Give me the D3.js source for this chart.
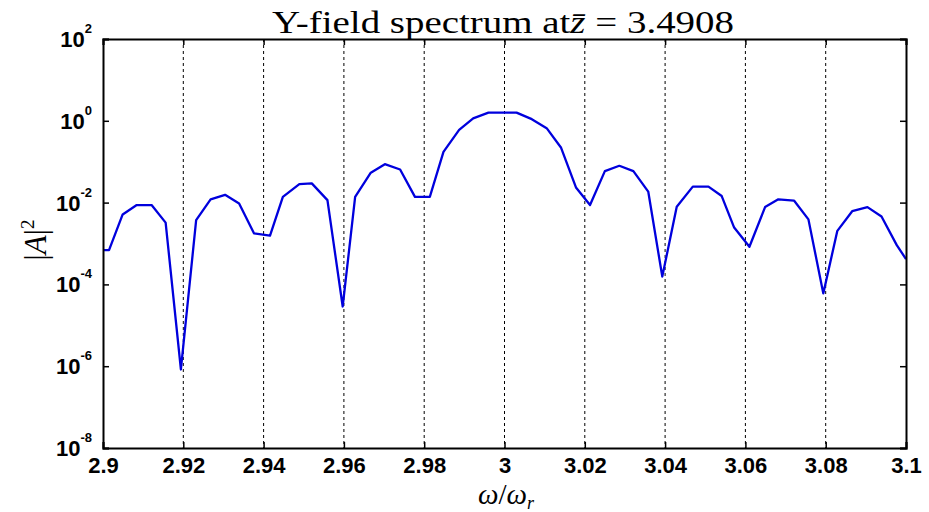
<!DOCTYPE html>
<html>
<head>
<meta charset="utf-8">
<script src="https://cdn.jsdelivr.net/npm/d3@7"></script>
<style>
  body { margin: 0; background: #fff; }
  svg { display: block; }
</style>
</head>
<body>
<div id="chart"></div>
<script>
// frequency samples (omega / omega_r)
const omega = [2.9000, 2.9015, 2.9049, 2.9084, 2.9121, 2.9156, 2.9194, 2.9232, 2.9268, 2.9304,
  2.9339, 2.9376, 2.9416, 2.9448, 2.9489, 2.9520, 2.9559, 2.9597, 2.9628, 2.9667,
  2.9702, 2.9740, 2.9777, 2.9814, 2.9848, 2.9887, 2.9922, 2.9960, 3.0000, 3.0030,
  3.0068, 3.0105, 3.0141, 3.0178, 3.0213, 3.0250, 3.0286, 3.0321, 3.0358, 3.0393,
  3.0429, 3.0469, 3.0508, 3.0541, 3.0572, 3.0610, 3.0649, 3.0682, 3.0721, 3.0757,
  3.0794, 3.0829, 3.0866, 3.0904, 3.0939, 3.0977, 3.1000];

// |A|^2, given as log10 exponents
const log10A2 = [-3.16, -3.16, -2.29, -2.06, -2.06, -2.49, -6.08, -2.43, -1.92, -1.81,
  -2.02, -2.75, -2.81, -1.86, -1.55, -1.53, -1.94, -4.54, -1.86, -1.27,
  -1.06, -1.19, -1.86, -1.86, -0.76, -0.22, 0.06, 0.20, 0.20, 0.20,
  0.04, -0.18, -0.66, -1.63, -2.06, -1.23, -1.10, -1.23, -1.73, -3.81,
  -2.10, -1.61, -1.61, -1.84, -2.61, -3.08, -2.11, -1.92, -1.95, -2.41,
  -4.22, -2.69, -2.21, -2.11, -2.34, -3.04, -3.38];

const xTicks = [2.9, 2.92, 2.94, 2.96, 2.98, 3.0, 3.02, 3.04, 3.06, 3.08, 3.1];
const xTickLabels = ["2.9", "2.92", "2.94", "2.96", "2.98", "3", "3.02", "3.04", "3.06", "3.08", "3.1"];
const yTickExp = [2, 0, -2, -4, -6, -8];

const width = 929;
const height = 512;
const margin = {top: 39, right: 23, bottom: 64, left: 103};

const svg = d3.select("#chart").append("svg")
  .attr("width", width)
  .attr("height", height);

const x = d3.scaleLinear()
  .domain([2.9, 3.1])
  .range([margin.left, width - margin.right]);

const y = d3.scaleLog()
  .domain([1e-8, 1e2])
  .range([height - margin.bottom, margin.top]);

const sansFont = "'Liberation Sans', Arial, sans-serif";
const serifFont = "'Liberation Serif', 'Times New Roman', serif";

// dotted vertical grid
svg.append("g")
  .selectAll("line")
  .data(xTicks.slice(1, -1))
  .join("line")
  .attr("x1", d => x(d))
  .attr("x2", d => x(d))
  .attr("y1", margin.top)
  .attr("y2", height - margin.bottom)
  .attr("stroke", "#000")
  .attr("stroke-width", 1)
  .attr("stroke-dasharray", "3,3");

// the spectrum
const pts = omega.map((w, i) => [w, Math.pow(10, log10A2[i])]);

svg.append("path")
  .datum(pts)
  .attr("fill", "none")
  .attr("stroke", "#0000dd")
  .attr("stroke-width", 2.3)
  .attr("stroke-linejoin", "round")
  .attr("d", d3.line().x(d => x(d[0])).y(d => y(d[1])));

// axes, ticks pointing inward like matlab
const yTickVals = yTickExp.map(e => Math.pow(10, e));

const bottom = svg.append("g")
  .attr("transform", `translate(0,${height - margin.bottom})`)
  .call(d3.axisBottom(x).tickValues(xTicks).tickSize(-6).tickPadding(9)
    .tickFormat((d, i) => xTickLabels[i]));

svg.append("g")
  .attr("transform", `translate(0,${margin.top})`)
  .call(d3.axisTop(x).tickValues(xTicks).tickSize(-6).tickFormat(""));

svg.append("g")
  .attr("transform", `translate(${margin.left},0)`)
  .call(d3.axisLeft(y).tickValues(yTickVals).tickSize(-6).tickFormat(""));

svg.append("g")
  .attr("transform", `translate(${width - margin.right},0)`)
  .call(d3.axisRight(y).tickValues(yTickVals).tickSize(-6).tickFormat(""));

svg.selectAll(".domain")
  .attr("stroke", "#000")
  .attr("stroke-width", 2);
svg.selectAll(".tick line")
  .attr("stroke", "#000")
  .attr("stroke-width", 1.5);

bottom.selectAll("text")
  .attr("fill", "#000")
  .style("font-family", sansFont)
  .style("font-weight", "bold")
  .style("font-size", "22px");

// y tick labels: 10 with superscript exponent
const ylab = svg.append("g")
  .selectAll("text")
  .data(yTickExp)
  .join("text")
  .attr("x", margin.left - 11)
  .attr("y", d => y(Math.pow(10, d)) + 8)
  .attr("text-anchor", "end")
  .style("font-family", sansFont)
  .style("font-weight", "bold")
  .style("font-size", "22px");

ylab.append("tspan").text("10");
ylab.append("tspan")
  .attr("dy", -14)
  .style("font-size", "13px")
  .text(d => d);

// title
const title = svg.append("text")
  .attr("x", 503)
  .attr("y", 33)
  .attr("text-anchor", "middle")
  .attr("textLength", 462)
  .attr("lengthAdjust", "spacingAndGlyphs")
  .style("font-family", serifFont)
  .style("font-size", "32px");
title.append("tspan").text("Y-field spectrum at");
title.append("tspan").style("font-style", "italic").text("z\u0304");
title.append("tspan").text(" = 3.4908");

// axis labels
const xl = svg.append("text")
  .attr("x", 506)
  .attr("y", 504)
  .attr("text-anchor", "middle")
  .style("font-family", serifFont)
  .style("font-size", "29px");
xl.append("tspan").style("font-style", "italic").text("\u03c9");
xl.append("tspan").text("/");
xl.append("tspan").style("font-style", "italic").text("\u03c9");
xl.append("tspan").style("font-style", "italic").style("font-size", "18px").attr("dy", 5).text("r");

const yl = svg.append("text")
  .attr("transform", "translate(46,240) rotate(-90)")
  .attr("text-anchor", "middle")
  .style("font-family", serifFont)
  .style("font-size", "31px");
yl.append("tspan").text("|");
yl.append("tspan").style("font-style", "italic").text("A");
yl.append("tspan").text("|");
yl.append("tspan").attr("dy", -12).style("font-size", "19px").text("2");
</script>
</body>
</html>
